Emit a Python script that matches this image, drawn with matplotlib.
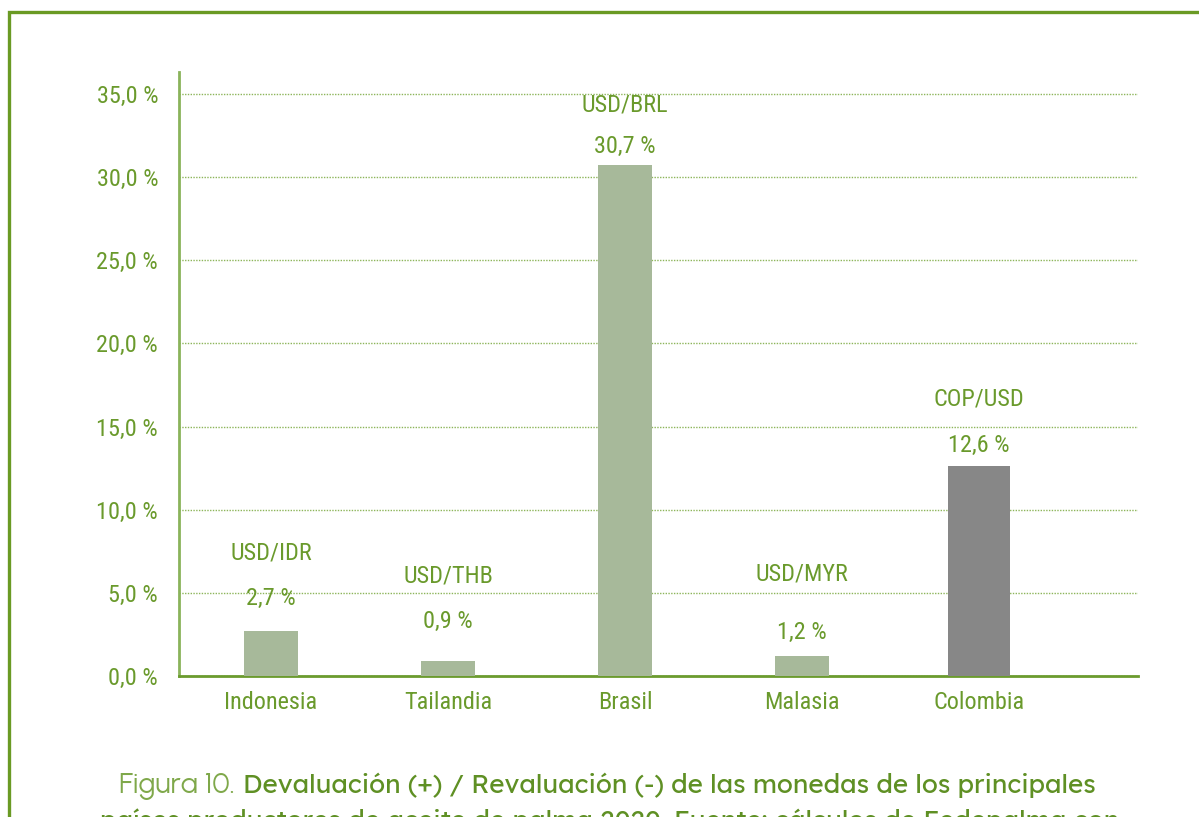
import matplotlib
matplotlib.use("Agg")
import matplotlib.pyplot as plt
from matplotlib.patches import Rectangle

# datos
paises = ["Indonesia", "Tailandia", "Brasil", "Malasia", "Colombia"]
monedas = ["USD/IDR", "USD/THB", "USD/BRL", "USD/MYR", "COP/USD"]
variacion = [2.7, 0.9, 30.7, 1.2, 12.6]
y_ticks = [0, 5, 10, 15, 20, 25, 30, 35]

# estilo
verde = "#6A9A2C"
colores = ["#A7B99A", "#A7B99A", "#A7B99A", "#A7B99A", "#878787"]
anchos = [0.31, 0.31, 0.31, 0.31, 0.35]
# distancia (px) de etiquetas sobre la barra
off_valor = [33, 40, 19, 24, 21]
off_moneda = [78, 85, 60, 82, 67]

fuente = "Roboto Condensed"

fig = plt.figure(figsize=(11.99, 8.17), dpi=100)
ax = fig.add_axes([179 / 1199, 1 - 676 / 817, (1138 - 179) / 1199, (676 - 72) / 817])

x = range(len(paises))
ax.bar(x, variacion, width=anchos, color=colores, zorder=3)

ax.set_xlim(-0.52, 4.898)
ax.set_ylim(0, 36.32)
ax.set_yticks(y_ticks)
ax.set_yticklabels([f"{v:.1f} %".replace(".", ",") for v in y_ticks])
ax.set_xticks(list(x))
ax.set_xticklabels(paises)
ax.tick_params(length=0, colors=verde, labelsize=17.5)
ax.tick_params(axis="y", pad=15)
ax.tick_params(axis="x", pad=11)
for lab in ax.get_xticklabels() + ax.get_yticklabels():
    lab.set_fontfamily(fuente)

ax.grid(axis="y", color="#8DB55A", linestyle=(0, (1, 1)), linewidth=1, zorder=0)
for s in ["top", "right"]:
    ax.spines[s].set_visible(False)
ax.spines["left"].set_color("#8AB35B")
ax.spines["left"].set_linewidth(2)
ax.spines["bottom"].set_color("#6B9B2E")
ax.spines["bottom"].set_linewidth(2)

for i in x:
    ax.annotate(f"{variacion[i]:.1f} %".replace(".", ","), (i, variacion[i]),
                xytext=(0, off_valor[i] * 0.72), textcoords="offset points",
                ha="center", va="center", color=verde, fontsize=17.5, family=fuente)
    ax.annotate(monedas[i], (i, variacion[i]),
                xytext=(0, off_moneda[i] * 0.72), textcoords="offset points",
                ha="center", va="center", color=verde, fontsize=17.5, family=fuente)

# marco verde
fig.patches.append(Rectangle((9 / 1199, -0.1), 1.2, 1.1 - 12 / 817, transform=fig.transFigure,
                             fill=False, edgecolor="#6A9A24", linewidth=2.4))

# pie de figura (ajustado al ancho)
r = fig.canvas.get_renderer()


def texto_ancho(x0, yb, s, ancho, **kw):
    t = fig.text(x0 / 1199, 1 - yb / 817, s, va="baseline", fontsize=18, **kw)
    w = t.get_window_extent(r).width
    t.set_fontsize(18 * ancho / w)
    return t


texto_ancho(119, 793, "Figura 10.", 116, family="Urbanist", color="#7FA84A")
texto_ancho(243, 793, "Devaluación (+) / Revaluación (-) de las monedas de los principales", 855,
            family="Lexend", color="#5F9024")
texto_ancho(100, 829, "países productores de aceite de palma 2020. Fuente: cálculos de Fedepalma con", 1020,
            family="Lexend", color="#5F9024")

fig.savefig("out.png", dpi=100)
